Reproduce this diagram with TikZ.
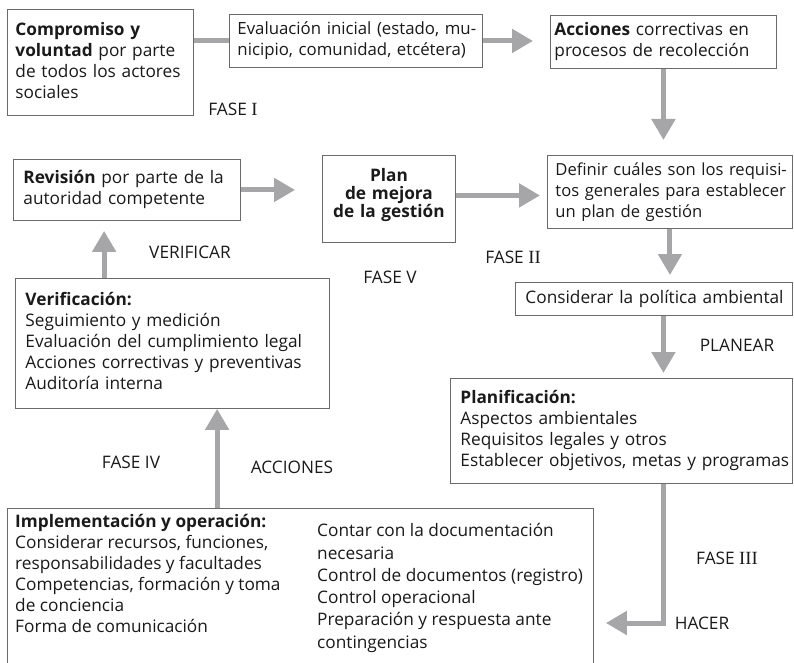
\documentclass[tikz,border=0pt]{standalone}
\usepackage{fontspec}
\setmainfont{Open Sans}
\newfontfamily\romfont[Scale=1.08]{Liberation Serif}
\usetikzlibrary{arrows.meta,calc}

\definecolor{arrowgray}{HTML}{A6A6A8}
\definecolor{framegray}{HTML}{6A6A6A}
\definecolor{inkcol}{HTML}{1A1A1A}

% lines of a box, each kept on one line
\newcommand{\boxlines}[1]{\begin{tabular}{@{}l@{}}#1\end{tabular}}

\begin{document}
\begin{tikzpicture}[x=1pt,y=-1pt,
  every node/.style={font=\fontsize{17.25}{21}\selectfont, text=inkcol},
  card/.style={draw=framegray, line width=0.9pt, fill=white, anchor=north west,
               inner ysep=0pt, align=left},
  flow/.style={draw=arrowgray, line width=5pt, -{Triangle[length=21pt,width=23pt]}},
  link/.style={draw=arrowgray, line width=5pt},
  tag/.style={inner sep=0pt}]

\useasboundingbox (0,0) rectangle (794,663);

% ---- boxes ----
\node[card, minimum width=186pt, minimum height=106pt, text width=170pt, inner xsep=8pt]
  (comp) at (7,9)
  {\boxlines{\textbf{Compromiso y}\\ \textbf{voluntad} por parte\\ de todos los actores\\ sociales}};

\node[card, minimum width=253pt, minimum height=53pt, text width=237pt, inner xsep=8pt,
      font=\fontsize{16.8}{21}\selectfont]
  (eval) at (229,14)
  {\boxlines{Evaluación inicial (estado, mu-\\ nicipio, comunidad, etcétera)}};

\node[card, minimum width=226pt, minimum height=53pt, text width=218pt, inner xsep=4pt]
  (acc) at (550,15)
  {\boxlines{\textbf{Acciones} correctivas en\\ procesos de recolección}};

\node[card, minimum width=245pt, minimum height=73pt, text width=229pt, inner xsep=8pt,
      font=\fontsize{16.6}{21}\selectfont]
  (defn) at (547,155)
  {\boxlines{Definir cuáles son los requisi-\\ tos generales para establecer\\ un plan de gestión}};

\node[card, minimum width=133pt, minimum height=87pt, text width=121pt, inner xsep=6pt, align=center]
  (plan) at (322,155)
  {\fontsize{17.25}{18.3}\selectfont\bfseries Plan\\ de mejora\\ de la gestión\par\vspace*{8pt}};

\node[card, minimum width=227pt, minimum height=61pt, text width=207pt, inner xsep=10pt]
  (rev) at (13,159)
  {\boxlines{\textbf{Revisión} por parte de la\\ autoridad competente}};

\node[card, minimum width=314pt, minimum height=130pt, text width=294pt, inner xsep=10pt]
  (ver) at (15,278)
  {\boxlines{\textbf{Verificación:}\\ Seguimiento y medición\\ Evaluación del cumplimiento legal\\
   Acciones correctivas y preventivas\\ Auditoría interna}};

\node[card, minimum width=277pt, minimum height=33pt, text width=257pt, inner xsep=10pt]
  (cons) at (515,282)
  {\boxlines{Considerar la política ambiental}};

\node[card, minimum width=342pt, minimum height=105pt, text width=322pt, inner xsep=10pt]
  (planif) at (450,378)
  {\boxlines{\textbf{Planificación:}\\ Aspectos ambientales\\ Requisitos legales y otros\\
   Establecer objetivos, metas y programas}};

\node[card, minimum width=586pt, minimum height=170pt, inner sep=0pt]
  (impl) at (7,508) {};

\node[anchor=north west, inner sep=0pt, align=left] (implA) at ($(impl.north west)+(8,4.5)$)
  {\boxlines{\textbf{Implementación y operación:}\\ Considerar recursos, funciones,\\
   responsabilidades y facultades\\ Competencias, formación y toma\\ de conciencia\\
   Forma de comunicación}};

\node[anchor=north west, inner sep=0pt, align=left] (implB) at ($(impl.north west)+(310,13)$)
  {\renewcommand{\arraystretch}{1.06}%
   \boxlines{Contar con la documentación\\ necesaria\\ Control de documentos (registro)\\
   Control operacional\\ Preparación y respuesta ante\\ contingencias}};

% ---- labels ----
\node[tag] (fase1) at (233,109) {FASE {\romfont I}};
\node[tag] (lverif) at (190,252) {VERIFICAR};
\node[tag] (fase5) at (390,277) {FASE V};
\node[tag] (fase2) at (513,257) {FASE {\romfont II}};
\node[tag] (lplan) at (737,345) {PLANEAR};
\node[tag] (fase4) at (131,462) {FASE IV};
\node[tag] (lacc) at (292,467) {ACCIONES};
\node[tag] (fase3) at (727,558) {FASE {\romfont III}};
\node[tag] (lhacer) at (702,623) {HACER};

% ---- connectors ----
\draw[link] (comp.east |- eval.west) -- (eval.west);
\draw[flow, shorten >=17pt] (eval.east) -- (eval.east -| acc.west);
\draw[flow, shorten >=15pt] (acc.south) -- (acc.south |- defn.north);
\draw[flow, shorten >=7pt] (defn.south) -- (defn.south |- cons.north);
\draw[flow, shorten >=5pt] (cons.south -| acc.south) -- (planif.north -| acc.south);
\coordinate (hin) at ($(impl.north east)+(0,115)$);
\draw[flow, shorten >=12pt] (planif.south -| acc.south) |- (hin);
\coordinate (iv) at ($(impl.north west)!0.358!(impl.north east)$);
\draw[flow] (iv) -- (iv |- ver.south);
\coordinate (vr) at ($(ver.north west)!0.283!(ver.north east)$);
\draw[flow, shorten >=10pt] (vr) -- (vr |- rev.south);
\draw[flow, shorten >=27pt] (rev.east) -- (rev.east -| plan.west);
\draw[flow, shorten >=7pt] ([yshift=3.5pt]plan.east) -- ([yshift=3.5pt]plan.east -| defn.west);

\end{tikzpicture}
\end{document}
